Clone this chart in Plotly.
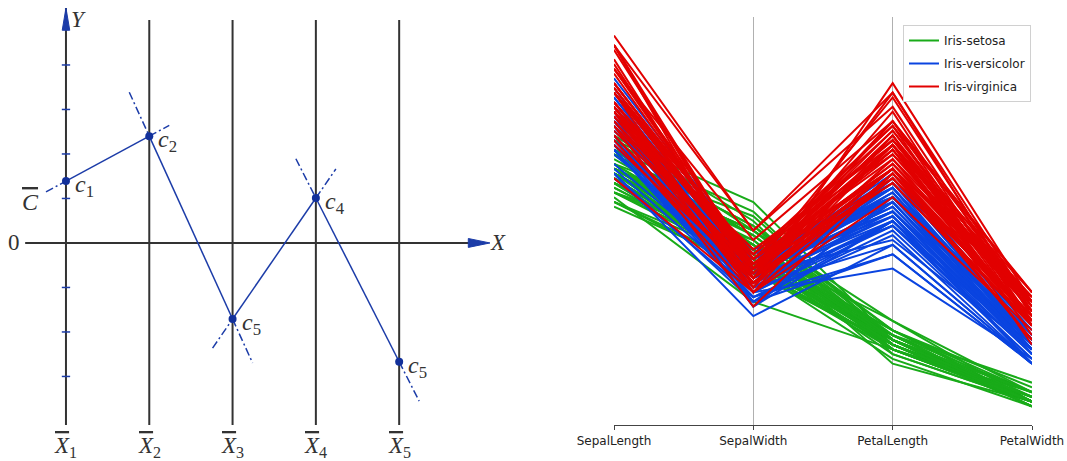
import plotly.graph_objects as go

# ---------------- Left panel: parallel-coordinates diagram ----------------
axis_positions = [0, 1, 2, 3, 4]
axis_subscripts = ["1", "2", "3", "4", "5"]
point_values = [1.39, 2.40, -1.71, 1.01, -2.67]
point_subscripts = ["1", "2", "5", "4", "5"]
y_ticks = [-3, -2, -1, 1, 2, 3, 4]
axis_top = 5.01
axis_bottom = -4.09
y_arrow_tip = 5.28
x_axis_start = -0.49
x_arrow_tip = 5.09
ext = 0.24

# ---------------- Right panel: iris parallel coordinates ----------------
dims = ["SepalLength", "SepalWidth", "PetalLength", "PetalWidth"]
species_names = ["Iris-setosa", "Iris-versicolor", "Iris-virginica"]
species_colors = ["#19ab19", "#0a44e0", "#e20000"]

sepal_length = [
5.1,4.9,4.7,4.6,5.0,5.4,4.6,5.0,4.4,4.9,5.4,4.8,4.8,4.3,5.8,5.7,5.4,5.1,5.7,5.1,
5.4,5.1,4.6,5.1,4.8,5.0,5.0,5.2,5.2,4.7,4.8,5.4,5.2,5.5,4.9,5.0,5.5,4.9,4.4,5.1,
5.0,4.5,4.4,5.0,5.1,4.8,5.1,4.6,5.3,5.0,
7.0,6.4,6.9,5.5,6.5,5.7,6.3,4.9,6.6,5.2,5.0,5.9,6.0,6.1,5.6,6.7,5.6,5.8,6.2,5.6,
5.9,6.1,6.3,6.1,6.4,6.6,6.8,6.7,6.0,5.7,5.5,5.5,5.8,6.0,5.4,6.0,6.7,6.3,5.6,5.5,
5.5,6.1,5.8,5.0,5.6,5.7,5.7,6.2,5.1,5.7,
6.3,5.8,7.1,6.3,6.5,7.6,4.9,7.3,6.7,7.2,6.5,6.4,6.8,5.7,5.8,6.4,6.5,7.7,7.7,6.0,
6.9,5.6,7.7,6.3,6.7,7.2,6.2,6.1,6.4,7.2,7.4,7.9,6.4,6.3,6.1,7.7,6.3,6.4,6.0,6.9,
6.7,6.9,5.8,6.8,6.7,6.7,6.3,6.5,6.2,5.9]
sepal_width = [
3.5,3.0,3.2,3.1,3.6,3.9,3.4,3.4,2.9,3.1,3.7,3.4,3.0,3.0,4.0,4.4,3.9,3.5,3.8,3.8,
3.4,3.7,3.6,3.3,3.4,3.0,3.4,3.5,3.4,3.2,3.1,3.4,4.1,4.2,3.1,3.2,3.5,3.1,3.0,3.4,
3.5,2.3,3.2,3.5,3.8,3.0,3.8,3.2,3.7,3.3,
3.2,3.2,3.1,2.3,2.8,2.8,3.3,2.4,2.9,2.7,2.0,3.0,2.2,2.9,2.9,3.1,3.0,2.7,2.2,2.5,
3.2,2.8,2.5,2.8,2.9,3.0,2.8,3.0,2.9,2.6,2.4,2.4,2.7,2.7,3.0,3.4,3.1,2.3,3.0,2.5,
2.6,3.0,2.6,2.3,2.7,3.0,2.9,2.9,2.5,2.8,
3.3,2.7,3.0,2.9,3.0,3.0,2.5,2.9,2.5,3.6,3.2,2.7,3.0,2.5,2.8,3.2,3.0,3.8,2.6,2.2,
3.2,2.8,2.8,2.7,3.3,3.2,2.8,3.0,2.8,3.0,2.8,3.8,2.8,2.8,2.6,3.0,3.4,3.1,3.0,3.1,
3.1,3.1,2.7,3.2,3.3,3.0,2.5,3.0,3.4,3.0]
petal_length = [
1.4,1.4,1.3,1.5,1.4,1.7,1.4,1.5,1.4,1.5,1.5,1.6,1.4,1.1,1.2,1.5,1.3,1.4,1.7,1.5,
1.7,1.5,1.0,1.7,1.9,1.6,1.6,1.5,1.4,1.6,1.6,1.5,1.5,1.4,1.5,1.2,1.3,1.5,1.3,1.5,
1.3,1.3,1.3,1.6,1.9,1.4,1.6,1.4,1.5,1.4,
4.7,4.5,4.9,4.0,4.6,4.5,4.7,3.3,4.6,3.9,3.5,4.2,4.0,4.7,3.6,4.4,4.5,4.1,4.5,3.9,
4.8,4.0,4.9,4.7,4.3,4.4,4.8,5.0,4.5,3.5,3.8,3.7,3.9,5.1,4.5,4.5,4.7,4.4,4.1,4.0,
4.4,4.6,4.0,3.3,4.2,4.2,4.2,4.3,3.0,4.1,
6.0,5.1,5.9,5.6,5.8,6.6,4.5,6.3,5.8,6.1,5.1,5.3,5.5,5.0,5.1,5.3,5.5,6.7,6.9,5.0,
5.7,4.9,6.7,4.9,5.7,6.0,4.8,4.9,5.6,5.8,6.1,6.4,5.6,5.1,5.6,6.1,5.6,5.5,4.8,5.4,
5.6,5.1,5.1,5.9,5.7,5.2,5.0,5.2,5.4,5.1]
petal_width = [
0.2,0.2,0.2,0.2,0.2,0.4,0.3,0.2,0.2,0.1,0.2,0.2,0.1,0.1,0.2,0.4,0.4,0.3,0.3,0.3,
0.2,0.4,0.2,0.5,0.2,0.2,0.4,0.2,0.2,0.2,0.2,0.4,0.1,0.2,0.1,0.2,0.2,0.1,0.2,0.2,
0.3,0.3,0.2,0.6,0.4,0.3,0.2,0.2,0.2,0.2,
1.4,1.5,1.5,1.3,1.5,1.3,1.6,1.0,1.3,1.4,1.0,1.5,1.0,1.4,1.3,1.4,1.5,1.0,1.5,1.1,
1.8,1.3,1.5,1.2,1.3,1.4,1.4,1.7,1.5,1.0,1.1,1.0,1.2,1.6,1.5,1.6,1.5,1.3,1.3,1.3,
1.2,1.4,1.2,1.0,1.3,1.2,1.3,1.3,1.1,1.3,
2.5,1.9,2.1,1.8,2.2,2.1,1.7,1.8,1.8,2.5,2.0,1.9,2.1,2.0,2.4,2.3,1.8,2.2,2.3,1.5,
2.3,2.0,2.0,1.8,2.1,1.8,1.8,1.8,2.1,1.6,1.9,2.0,2.2,1.5,1.4,2.3,2.4,1.8,1.8,2.1,
2.4,2.3,1.9,2.3,2.5,2.3,1.9,2.0,2.3,1.8]
species = ["Iris-setosa"] * 50 + ["Iris-versicolor"] * 50 + ["Iris-virginica"] * 50

LINE_BLUE = "#1c3ca8"
DOT_BLUE = "#12309a"
AX = "#333333"
SERIF = "Liberation Serif, Times New Roman, serif"

fig = go.Figure()

# vertical parallel axes
for i, xp in enumerate(axis_positions):
    top = y_arrow_tip if i == 0 else axis_top
    fig.add_trace(go.Scatter(x=[xp, xp], y=[axis_bottom, top], mode="lines",
                             line=dict(color=AX, width=2), showlegend=False,
                             hoverinfo="skip", xaxis="x", yaxis="y"))
# horizontal X axis
fig.add_trace(go.Scatter(x=[x_axis_start, x_arrow_tip - 0.1], y=[0, 0], mode="lines",
                         line=dict(color=AX, width=2), showlegend=False,
                         hoverinfo="skip", xaxis="x", yaxis="y"))
# y ticks
tx, ty = [], []
for t in y_ticks:
    tx += [axis_positions[0] - 0.05, axis_positions[0] + 0.05, None]
    ty += [t, t, None]
fig.add_trace(go.Scatter(x=tx, y=ty, mode="lines", line=dict(color=LINE_BLUE, width=1.5),
                         showlegend=False, hoverinfo="skip", xaxis="x", yaxis="y"))
# arrow heads
ay_base = y_arrow_tip - 0.5
fig.add_trace(go.Scatter(x=[-0.045, 0.045, 0, -0.045], y=[ay_base, ay_base, y_arrow_tip, ay_base],
                         mode="lines", fill="toself", fillcolor=LINE_BLUE,
                         line=dict(color=LINE_BLUE, width=1), showlegend=False,
                         hoverinfo="skip", xaxis="x", yaxis="y"))
ax_base = x_arrow_tip - 0.26
fig.add_trace(go.Scatter(x=[ax_base, ax_base, x_arrow_tip, ax_base], y=[-0.1, 0.1, 0, -0.1],
                         mode="lines", fill="toself", fillcolor=LINE_BLUE,
                         line=dict(color=LINE_BLUE, width=1), showlegend=False,
                         hoverinfo="skip", xaxis="x", yaxis="y"))

# connecting lines with dash-dot extensions
for i in range(len(axis_positions) - 1):
    x0, y0 = axis_positions[i], point_values[i]
    x1, y1 = axis_positions[i + 1], point_values[i + 1]
    s = (y1 - y0) / (x1 - x0)
    fig.add_trace(go.Scatter(x=[x0, x1], y=[y0, y1], mode="lines",
                             line=dict(color=LINE_BLUE, width=1.5), showlegend=False,
                             hoverinfo="skip", xaxis="x", yaxis="y"))
    fig.add_trace(go.Scatter(x=[x0 - ext, x0, None, x1, x1 + ext],
                             y=[y0 - ext * s, y0, None, y1, y1 + ext * s], mode="lines",
                             line=dict(color=LINE_BLUE, width=1.5, dash="8px,3px,2px,3px"),
                             showlegend=False, hoverinfo="skip", xaxis="x", yaxis="y"))
# points
fig.add_trace(go.Scatter(x=axis_positions, y=point_values, mode="markers",
                         marker=dict(color=DOT_BLUE, size=8), showlegend=False,
                         hoverinfo="skip", xaxis="x", yaxis="y"))

annotations = []
for xp, yv, sub in zip(axis_positions, point_values, point_subscripts):
    annotations.append(dict(x=xp, y=yv, xref="x", yref="y", xanchor="left", yanchor="middle",
                            xshift=7, yshift=-5, showarrow=False,
                            text=f"<i>c</i><sub>{sub}</sub>",
                            font=dict(family=SERIF, size=24, color=AX)))
for xp, sub in zip(axis_positions, axis_subscripts):
    annotations.append(dict(x=xp, y=axis_bottom - 0.5, xref="x", yref="y", xanchor="center",
                            yanchor="middle", showarrow=False,
                            text=f"<span style='text-decoration:overline'><i>X</i></span><sub>{sub}</sub>",
                            font=dict(family=SERIF, size=23, color=AX)))
annotations.append(dict(x=axis_positions[0], y=y_arrow_tip - 0.25, xref="x", yref="y",
                        xanchor="left", yanchor="middle", xshift=3, showarrow=False,
                        text="<i>Y</i>", font=dict(family=SERIF, size=23, color=AX)))
annotations.append(dict(x=x_arrow_tip, y=0, xref="x", yref="y", xanchor="left",
                        yanchor="middle", xshift=-2, showarrow=False,
                        text="<i>X</i>", font=dict(family=SERIF, size=23, color=AX)))
annotations.append(dict(x=x_axis_start, y=0, xref="x", yref="y", xanchor="right",
                        yanchor="middle", xshift=-3, showarrow=False,
                        text="0", font=dict(family=SERIF, size=23, color=AX)))
annotations.append(dict(x=x_axis_start + 0.06, y=0.93, xref="x", yref="y", xanchor="center",
                        yanchor="middle", showarrow=False,
                        text="<span style='text-decoration:overline'><i>C</i></span>",
                        font=dict(family=SERIF, size=24, color=AX)))

# right panel traces
for name, col in zip(species_names, species_colors):
    xs, ys = [], []
    for r in range(len(species)):
        if species[r] != name:
            continue
        xs += [0, 1, 2, 3, None]
        ys += [sepal_length[r], sepal_width[r], petal_length[r], petal_width[r], None]
    fig.add_trace(go.Scatter(x=xs, y=ys, mode="lines", name=name, legendgroup=name,
                             line=dict(color=col, width=2), xaxis="x2", yaxis="y2",
                             hoverinfo="skip"))

fig.update_layout(
    width=1067, height=461, autosize=False,
    margin=dict(l=0, r=0, t=0, b=0, pad=0, autoexpand=False),
    paper_bgcolor="white", plot_bgcolor="white",
    xaxis=dict(domain=[0, 0.4873], range=[-0.792, 5.45], visible=False),
    yaxis=dict(domain=[0, 1], range=[-4.90, 5.46], visible=False),
    xaxis2=dict(domain=[614 / 1067, 1032 / 1067], range=[0, 3], anchor="y2",
                tickmode="array", tickvals=[0, 1, 2, 3], ticktext=dims,
                showgrid=True, gridcolor="#b0b0b0", gridwidth=1,
                showline=True, linecolor="#444444", linewidth=1.2,
                ticks="outside", ticklen=4, tickcolor="#444444", zeroline=False,
                automargin=False,
                tickfont=dict(family="DejaVu Sans", size=12, color="#222222")),
    yaxis2=dict(domain=[(461 - 425) / 461, (461 - 17) / 461], range=[-0.29, 8.29],
                anchor="x2", visible=False),
    legend=dict(x=903 / 1067, y=1 - 25 / 461, xanchor="left", yanchor="top",
                bgcolor="white", bordercolor="#d0d0d0", borderwidth=1,
                traceorder="grouped", tracegroupgap=4,
                font=dict(family="DejaVu Sans", size=12, color="#222222")),
    annotations=annotations,
    showlegend=True,
)

fig.write_html("out.html", config={"displayModeBar": False},
               post_script="document.body.style.margin='0px';")
